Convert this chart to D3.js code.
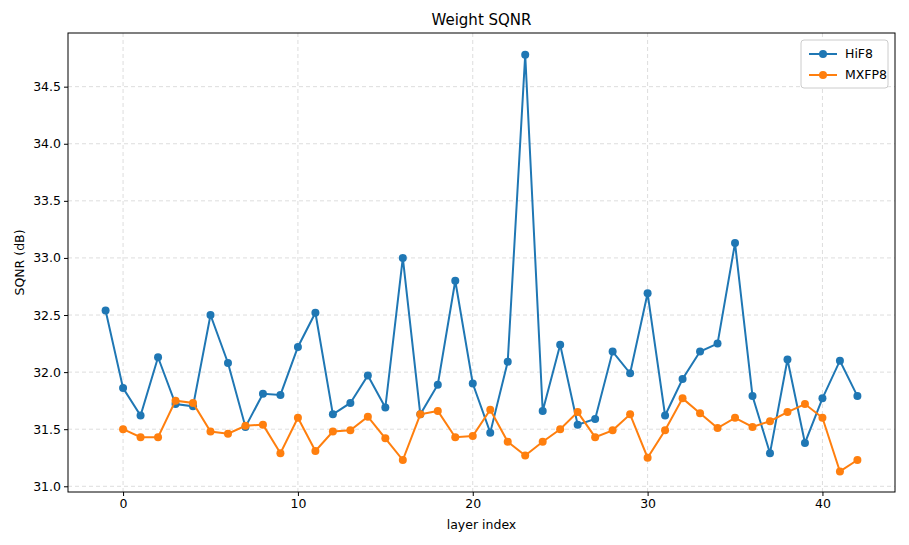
<!DOCTYPE html>
<html><head><meta charset="utf-8">
<script src="https://cdn.jsdelivr.net/npm/d3@7"></script>
<style>body{margin:0;background:#fff;font-family:"DejaVu Sans",sans-serif;}</style>
</head><body><svg id="chart"></svg>
<script>
const hifX = d3.range(-1, 43);
const hifY = [32.54,31.86,31.62,32.13,31.72,31.70,32.50,32.08,31.52,31.81,31.80,32.22,32.52,31.63,31.73,31.97,31.69,33.00,31.63,31.89,32.80,31.90,31.47,32.09,34.78,31.66,32.24,31.54,31.59,32.18,31.99,32.69,31.62,31.94,32.18,32.25,33.13,31.79,31.29,32.11,31.38,31.77,32.10,31.79];
const mxX = d3.range(0, 43);
const mxY = [31.50,31.43,31.43,31.75,31.73,31.48,31.46,31.53,31.54,31.29,31.60,31.31,31.48,31.49,31.61,31.42,31.23,31.63,31.66,31.43,31.44,31.67,31.39,31.27,31.39,31.50,31.65,31.43,31.49,31.63,31.25,31.49,31.77,31.64,31.51,31.60,31.52,31.57,31.65,31.72,31.60,31.13,31.23];
const xTicks = [0,10,20,30,40];
const yTicks = [31.0,31.5,32.0,32.5,33.0,33.5,34.0,34.5];
const series = [
  {name:"HiF8", xs:hifX, ys:hifY, color:"#1f77b4"},
  {name:"MXFP8", xs:mxX, ys:mxY, color:"#ff7f0e"}
];

const W = 909, H = 545;
const m = {top:33, right:14, bottom:53, left:68};
const w = W - m.left - m.right, h = H - m.top - m.bottom;
const svg = d3.select("#chart").attr("width", W).attr("height", H);
const g = svg.append("g").attr("transform", `translate(${m.left},${m.top})`);

const x = d3.scaleLinear().domain([-3.15, 44.15]).range([0, w]);
const y = d3.scaleLinear().domain([30.95, 34.97]).range([h, 0]);

// grid
g.selectAll(".gx").data(xTicks).enter().append("line")
  .attr("x1", d => x(d)).attr("x2", d => x(d)).attr("y1", 0).attr("y2", h)
  .attr("stroke", "#ddd").attr("stroke-dasharray", "4,3");
g.selectAll(".gy").data(yTicks).enter().append("line")
  .attr("y1", d => y(d)).attr("y2", d => y(d)).attr("x1", 0).attr("x2", w)
  .attr("stroke", "#ddd").attr("stroke-dasharray", "4,3");

const xa = g.append("g").attr("transform", `translate(0,${h})`)
  .call(d3.axisBottom(x).tickValues(xTicks).tickFormat(d3.format("d")).tickSize(4));
const ya = g.append("g")
  .call(d3.axisLeft(y).tickValues(yTicks).tickFormat(d3.format(".1f")).tickSize(4));
[xa, ya].forEach(a => { a.selectAll("text").attr("font-size", 12.5).attr("fill", "#000").attr("font-family", "DejaVu Sans"); a.select(".domain").remove(); });

g.append("rect").attr("width", w).attr("height", h).attr("fill", "none").attr("stroke", "#000");

const line = d3.line().x(d => x(d[0])).y(d => y(d[1]));
series.forEach(s => {
  const pts = s.xs.map((v, i) => [v, s.ys[i]]);
  g.append("path").datum(pts).attr("d", line).attr("fill", "none")
    .attr("stroke", s.color).attr("stroke-width", 2);
  g.selectAll(null).data(pts).enter().append("circle")
    .attr("cx", d => x(d[0])).attr("cy", d => y(d[1])).attr("r", 4).attr("fill", s.color);
});

svg.append("text").attr("x", m.left + w / 2).attr("y", 25).attr("text-anchor", "middle")
  .attr("font-size", 15).text("Weight SQNR");
svg.append("text").attr("x", m.left + w / 2).attr("y", H - 16).attr("text-anchor", "middle")
  .attr("font-size", 12.5).text("layer index");
svg.append("text").attr("transform", `translate(24,${m.top + h / 2}) rotate(-90)`)
  .attr("text-anchor", "middle").attr("font-size", 12.5).text("SQNR (dB)");

// legend
const lg = g.append("g").attr("transform", `translate(${w - 94},7)`);
lg.append("rect").attr("width", 87).attr("height", 48).attr("rx", 3)
  .attr("fill", "#fff").attr("stroke", "#ccc");
series.forEach((s, i) => {
  const yy = 14 + i * 21;
  lg.append("line").attr("x1", 8).attr("x2", 36).attr("y1", yy).attr("y2", yy)
    .attr("stroke", s.color).attr("stroke-width", 2);
  lg.append("circle").attr("cx", 22).attr("cy", yy).attr("r", 4).attr("fill", s.color);
  lg.append("text").attr("x", 44).attr("y", yy + 4).attr("font-size", 12.5).text(s.name);
});
</script></body></html>
